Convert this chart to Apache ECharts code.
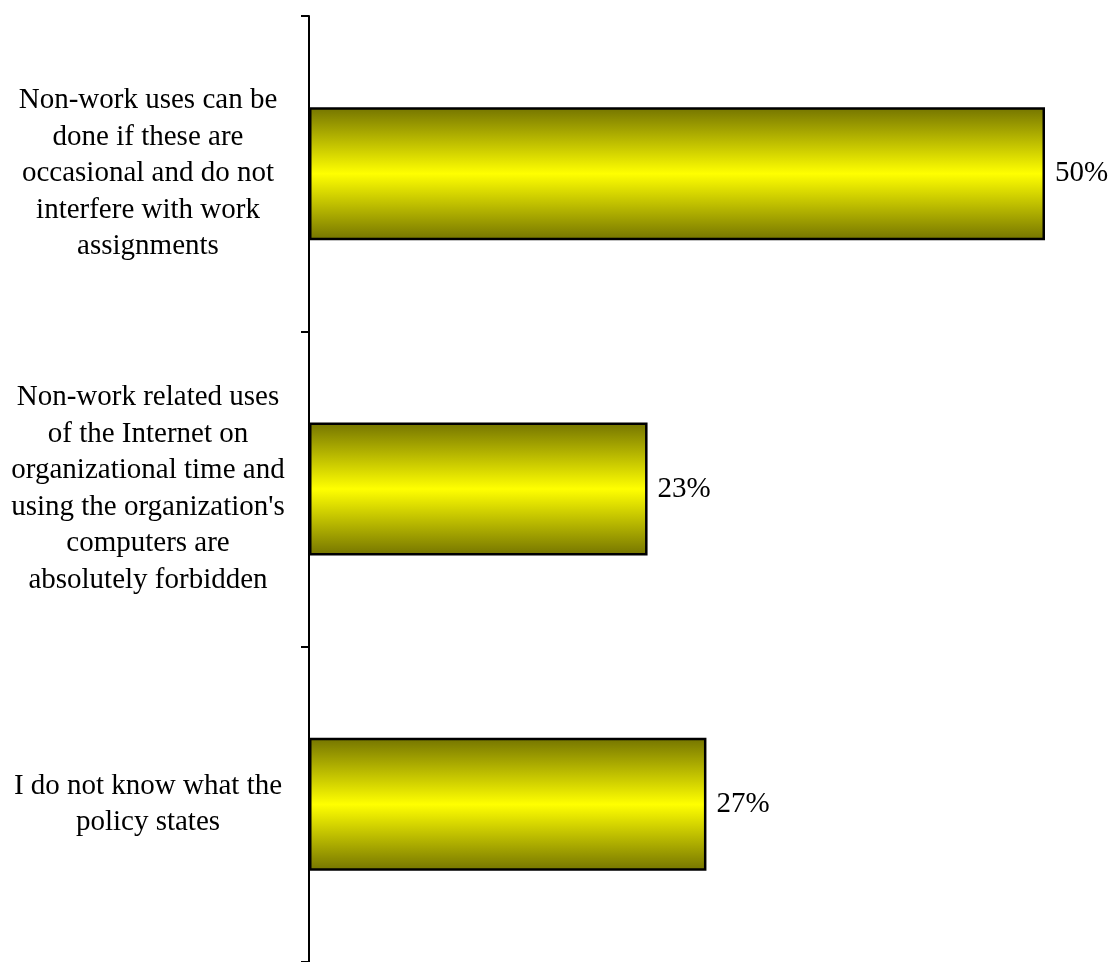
<!DOCTYPE html>
<html>
<head>
<meta charset="utf-8">
<script src="https://cdn.jsdelivr.net/npm/echarts@6/dist/echarts.min.js"></script>
<style>
  html, body { margin: 0; padding: 0; background: #ffffff; }
  #chart { width: 1110px; height: 962px; }
</style>
</head>
<body>
<div id="chart"></div>
<script>
// Survey answers about the organization's Internet-use policy
const categories = [
  "Non-work uses can be\ndone if these are\noccasional and do not\ninterfere with work\nassignments",
  "Non-work related uses\nof the Internet on\norganizational time and\nusing the organization's\ncomputers are\nabsolutely forbidden",
  "I do not know what the\npolicy states"
];
const shares = [50, 23, 27];

const serif = '"Liberation Serif", "Times New Roman", "DejaVu Serif", serif';

const chart = echarts.init(document.getElementById('chart'), null, { renderer: 'canvas' });

chart.setOption({
  animation: false,
  backgroundColor: '#ffffff',
  // the plot runs a few pixels past the bottom edge of the page
  grid: { left: 309, width: 736, top: 16, height: 950, containLabel: false },
  xAxis: {
    type: 'value',
    min: 0,
    max: 50,
    show: false
  },
  yAxis: {
    type: 'category',
    inverse: true,
    data: categories,
    axisLine: { show: true, lineStyle: { color: '#000000', width: 2 } },
    axisTick: { show: true, length: 8, inside: false, lineStyle: { color: '#000000', width: 2 } },
    axisLabel: {
      margin: 161,
      align: 'center',
      color: '#000000',
      fontFamily: serif,
      fontSize: 29,
      lineHeight: 36.5
    },
    splitLine: { show: false }
  },
  series: [{
    type: 'bar',
    data: shares,
    barWidth: 133,
    itemStyle: {
      color: new echarts.graphic.LinearGradient(0, 0, 0, 1, [
        { offset: 0, color: '#747400' },
        { offset: 0.5, color: '#ffff00' },
        { offset: 1, color: '#747400' }
      ]),
      borderColor: '#000000',
      borderWidth: 2.5
    },
    label: {
      show: true,
      position: 'right',
      distance: 10,
      formatter: '{c}%',
      color: '#000000',
      fontFamily: serif,
      fontSize: 29
    }
  }]
});
</script>
</body>
</html>
